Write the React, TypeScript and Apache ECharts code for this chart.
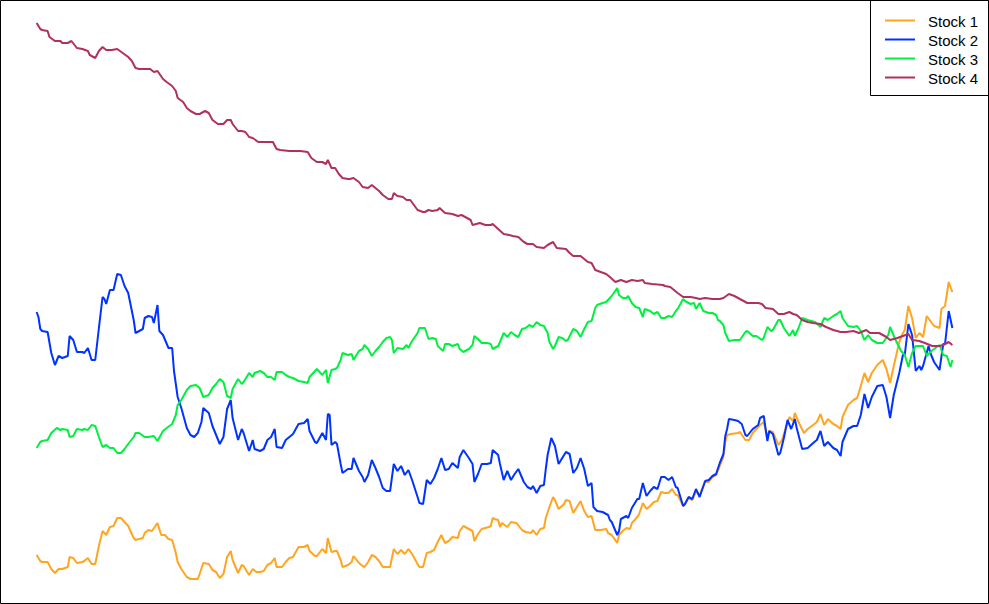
import React, { useEffect, useRef } from "react";
import * as echarts from "echarts";

// Day index (0..500) and index level
const stockNames = ["Stock 1", "Stock 2", "Stock 3", "Stock 4"];
const stockColors = ["#FFA520", "#0033FF", "#00F040", "#B03060"];

const stock1 = [[0,49],[2,43],[3,42],[6,42],[8,35],[10,31],[12,35],[14,35],[17,37],[18,47],[20,46],[22,41],[25,42],[26,43],[28,46],[30,40],[32,40],[34,58],[36,73],[38,69],[40,77],[42,78],[44,86],[46,86],[48,82],[50,78],[53,66],[54,64],[58,66],[59,71],[61,74],[63,73],[66,81],[68,69],[70,69],[72,65],[74,64],[76,51],[77,42],[79,35],[82,27],[84,25],[88,25],[89,30],[91,41],[94,40],[96,34],[98,32],[100,26],[102,30],[104,47],[106,53],[107,44],[110,31],[112,39],[113,38],[116,29],[118,35],[120,32],[122,32],[124,33],[126,39],[128,41],[130,46],[131,37],[134,37],[136,42],[138,46],[140,47],[143,57],[146,57],[148,59],[149,53],[152,48],[153,48],[156,55],[158,51],[159,66],[161,52],[163,53],[164,53],[166,44],[167,37],[170,39],[172,42],[173,48],[176,41],[178,38],[179,37],[181,42],[183,49],[185,47],[187,43],[188,40],[189,37],[191,37],[193,37],[195,55],[197,50],[199,54],[201,50],[203,55],[205,50],[208,40],[209,37],[211,37],[213,51],[215,52],[217,54],[219,62],[221,69],[223,61],[225,63],[227,67],[230,66],[231,73],[233,78],[236,75],[238,73],[239,63],[241,70],[243,75],[247,77],[248,78],[249,86],[250,85],[252,84],[253,77],[254,81],[257,77],[259,82],[262,81],[265,74],[267,72],[270,71],[271,74],[273,69],[275,75],[277,76],[278,86],[280,97],[282,107],[283,104],[285,95],[288,100],[289,104],[291,103],[293,91],[295,97],[297,103],[299,93],[301,87],[303,88],[305,74],[308,74],[311,75],[312,71],[314,69],[317,61],[318,69],[320,73],[322,76],[324,75],[325,81],[328,87],[329,90],[331,101],[333,95],[335,98],[337,102],[339,103],[341,112],[343,111],[345,111],[347,115],[349,109],[350,109],[353,98],[354,100],[356,106],[358,104],[360,113],[362,109],[365,122],[367,122],[369,127],[371,129],[373,138],[375,147],[376,162],[377,169],[379,170],[383,171],[384,172],[387,164],[389,164],[391,171],[393,175],[395,179],[397,182],[399,166],[400,173],[402,172],[405,159],[407,164],[409,176],[411,187],[413,183],[414,191],[416,182],[419,171],[421,175],[424,179],[426,182],[428,190],[430,179],[432,185],[435,180],[437,178],[439,175],[440,187],[443,199],[446,204],[448,206],[450,218],[452,231],[454,222],[456,231],[459,239],[462,244],[464,235],[466,221],[468,238],[471,262],[473,271],[474,274],[476,298],[478,286],[480,266],[482,271],[484,267],[486,288],[488,283],[490,278],[493,276],[494,295],[496,298],[498,322],[500,312]];

const stock2 = [[0,292],[1,287],[2,275],[3,273],[6,272],[8,251],[10,239],[12,248],[14,246],[17,248],[18,268],[20,264],[22,252],[25,252],[26,251],[28,256],[30,244],[32,244],[34,276],[36,307],[37,305],[38,300],[40,314],[42,314],[44,330],[46,329],[48,318],[50,311],[53,284],[54,271],[58,275],[59,286],[61,288],[63,287],[64,281],[66,299],[67,273],[69,269],[72,256],[74,256],[75,233],[77,207],[79,196],[82,176],[84,169],[86,167],[88,171],[90,182],[91,196],[94,191],[96,178],[98,169],[100,160],[102,167],[104,195],[106,204],[107,186],[110,164],[112,175],[113,171],[116,153],[118,164],[119,155],[122,153],[124,155],[126,164],[128,167],[130,175],[131,157],[134,156],[136,164],[138,167],[140,170],[143,180],[146,181],[148,185],[149,173],[152,162],[153,161],[156,171],[158,164],[159,190],[160,189],[161,159],[163,162],[164,160],[166,140],[167,131],[170,135],[172,135],[173,146],[176,133],[178,127],[179,122],[181,129],[183,144],[185,136],[187,127],[189,116],[191,113],[193,113],[195,140],[197,133],[199,138],[201,129],[203,134],[205,124],[208,107],[209,101],[211,100],[213,124],[215,120],[217,126],[219,135],[221,146],[223,134],[225,135],[227,141],[230,136],[231,147],[233,154],[236,146],[238,140],[239,122],[241,130],[243,140],[246,140],[248,141],[249,154],[252,149],[253,140],[255,124],[257,133],[259,124],[261,130],[263,135],[266,122],[268,117],[270,115],[271,118],[273,111],[275,118],[277,119],[278,135],[279,149],[281,166],[283,158],[285,140],[287,146],[289,152],[291,150],[293,131],[295,136],[297,146],[299,135],[301,118],[303,121],[304,97],[306,93],[309,92],[312,89],[313,84],[314,82],[317,69],[318,73],[319,85],[322,88],[323,86],[325,96],[328,105],[329,105],[331,121],[333,108],[335,113],[337,117],[339,115],[341,127],[343,127],[345,124],[347,127],[349,117],[350,116],[353,98],[354,100],[356,107],[358,105],[360,115],[362,107],[365,123],[367,124],[369,128],[371,130],[373,141],[375,150],[376,168],[377,175],[378,185],[381,184],[383,183],[385,180],[387,169],[388,168],[391,175],[394,179],[395,186],[397,188],[399,163],[400,173],[402,170],[405,149],[406,151],[408,166],[410,184],[412,175],[414,185],[415,176],[418,155],[421,156],[424,161],[426,164],[428,173],[430,158],[432,162],[435,156],[437,154],[439,148],[440,162],[443,175],[446,178],[448,178],[450,189],[452,210],[454,196],[456,207],[459,218],[462,219],[464,207],[466,186],[468,209],[471,231],[473,249],[474,249],[476,280],[478,269],[480,233],[482,238],[483,234],[484,238],[487,258],[488,251],[490,242],[493,234],[495,260],[496,260],[498,293],[500,276]];

const stock3 = [[0,156],[2,162],[3,163],[6,164],[8,171],[11,176],[13,174],[14,175],[17,174],[18,167],[20,168],[22,175],[25,174],[26,175],[28,174],[30,179],[32,178],[34,167],[36,157],[37,158],[38,159],[40,156],[42,156],[44,151],[46,151],[48,155],[50,160],[53,167],[54,171],[56,171],[59,167],[61,167],[64,168],[66,163],[69,173],[71,176],[74,180],[76,189],[77,199],[79,204],[82,214],[84,218],[87,219],[89,216],[91,207],[94,209],[96,216],[98,220],[100,225],[102,222],[104,208],[106,206],[107,215],[110,225],[112,220],[113,222],[116,231],[118,227],[119,231],[122,233],[124,231],[126,227],[128,227],[130,224],[131,232],[134,232],[136,229],[138,227],[140,226],[143,223],[146,222],[148,221],[149,227],[152,233],[153,235],[156,229],[158,234],[159,221],[161,234],[163,235],[164,236],[166,244],[167,251],[170,249],[172,250],[173,244],[176,253],[178,255],[179,259],[181,255],[183,248],[185,253],[187,257],[189,262],[191,266],[193,267],[194,264],[195,251],[197,256],[200,255],[202,259],[203,256],[205,263],[208,271],[209,276],[212,276],[214,265],[216,266],[218,265],[219,258],[222,253],[223,260],[225,260],[227,258],[230,260],[231,255],[233,252],[236,255],[238,259],[239,268],[241,265],[243,261],[246,261],[248,260],[249,255],[252,258],[253,262],[255,271],[257,267],[259,272],[261,269],[263,267],[265,275],[267,276],[269,279],[271,277],[273,282],[275,279],[277,278],[279,271],[280,262],[282,255],[283,258],[285,267],[287,266],[289,263],[290,264],[293,275],[295,273],[297,267],[299,275],[301,282],[303,283],[305,296],[306,299],[309,301],[311,302],[313,306],[314,308],[317,316],[318,309],[320,306],[322,306],[323,308],[325,301],[327,297],[329,296],[331,287],[332,295],[335,293],[337,290],[339,292],[341,286],[343,286],[345,288],[347,287],[349,293],[350,295],[353,305],[354,303],[357,300],[359,301],[360,295],[362,301],[364,293],[367,291],[369,291],[371,289],[372,284],[373,283],[375,279],[376,271],[378,263],[381,264],[384,264],[387,272],[388,273],[391,268],[393,268],[396,264],[397,266],[399,277],[401,273],[402,274],[405,284],[406,284],[408,276],[411,268],[413,274],[414,268],[416,276],[418,286],[421,284],[425,282],[428,277],[430,286],[432,284],[435,288],[437,290],[439,293],[440,286],[443,278],[446,277],[448,278],[450,273],[452,264],[454,269],[456,264],[459,261],[462,261],[465,269],[466,277],[469,264],[472,253],[474,249],[476,237],[478,251],[480,258],[482,258],[484,258],[486,248],[488,252],[490,255],[493,259],[495,249],[497,248],[499,237],[500,244]];

const stock4 = [[0,581],[2,575],[3,574],[6,573],[7,567],[10,563],[13,563],[14,561],[17,561],[19,563],[22,556],[25,555],[28,553],[29,549],[32,546],[34,553],[36,557],[38,554],[41,554],[44,555],[47,551],[50,547],[52,543],[54,536],[56,535],[62,535],[64,532],[66,533],[69,525],[71,522],[74,518],[76,513],[77,506],[80,502],[82,496],[84,493],[87,490],[89,490],[92,493],[94,491],[96,484],[99,480],[102,480],[104,484],[106,484],[107,480],[110,473],[112,473],[114,472],[116,467],[118,466],[121,462],[125,462],[129,462],[131,455],[133,454],[138,453],[144,453],[148,452],[150,446],[153,442],[156,442],[158,440],[159,444],[161,436],[163,436],[165,430],[167,426],[170,425],[171,425],[173,426],[176,422],[178,417],[181,416],[183,419],[185,416],[187,413],[189,409],[192,405],[194,405],[195,411],[197,408],[200,407],[202,404],[204,404],[206,399],[208,394],[211,392],[212,392],[214,394],[216,393],[219,394],[220,396],[223,391],[227,390],[230,388],[232,389],[234,387],[237,384],[238,379],[242,381],[245,379],[248,379],[249,380],[252,375],[255,370],[258,369],[260,368],[263,367],[266,362],[268,360],[271,360],[273,357],[277,356],[279,359],[282,362],[284,356],[289,355],[291,351],[293,348],[297,348],[299,345],[301,342],[303,341],[305,334],[308,332],[311,330],[313,327],[316,322],[319,324],[322,322],[325,324],[328,323],[331,324],[332,321],[336,320],[342,319],[343,318],[346,317],[348,314],[350,311],[353,307],[357,307],[360,306],[362,305],[365,306],[369,305],[373,305],[375,306],[378,310],[381,308],[383,306],[386,303],[388,301],[394,301],[396,300],[398,296],[402,295],[405,290],[408,290],[411,292],[413,290],[415,289],[418,284],[421,282],[424,281],[428,280],[431,277],[435,274],[439,272],[442,272],[446,273],[449,271],[453,274],[455,271],[460,271],[464,267],[466,264],[470,266],[473,268],[476,270],[478,264],[482,263],[485,261],[489,258],[493,258],[495,259],[498,262],[500,259]];

const stockData = [stock1, stock2, stock3, stock4];

export default function App() {
  const ref = useRef<HTMLDivElement>(null);

  useEffect(() => {
    if (!ref.current) return;
    const chart = echarts.init(ref.current, null, { renderer: "svg" });

    const legendItems: any[] = [
      {
        type: "rect",
        shape: { x: 870.5, y: 0.5, width: 118, height: 95 },
        style: { fill: "#fff", stroke: "#000", lineWidth: 1 },
      },
    ];
    stockNames.forEach((name, i) => {
      const y = 20.5 + i * 19;
      legendItems.push({
        type: "line",
        shape: { x1: 885, y1: y, x2: 915, y2: y },
        style: { stroke: stockColors[i], lineWidth: 2 },
      });
      legendItems.push({
        type: "text",
        x: 928,
        y: y + 0.5,
        style: {
          text: name,
          fill: "#000",
          fontSize: 15,
          fontFamily: "'Liberation Sans', Arial, sans-serif",
          verticalAlign: "middle",
          align: "left",
        },
      });
    });

    chart.setOption({
      animation: false,
      backgroundColor: "#fff",
      grid: { left: 0, right: 0, top: 0, bottom: 0, containLabel: false },
      xAxis: { type: "value", min: -20, max: 520, show: false },
      yAxis: { type: "value", min: 0, max: 604, show: false },
      series: stockData.map((d, i) => ({
        name: stockNames[i],
        type: "line",
        data: d,
        symbol: "none",
        showSymbol: false,
        lineStyle: { color: stockColors[i], width: 2 },
        itemStyle: { color: stockColors[i] },
        z: 2 + i,
      })),
      graphic: [
        {
          type: "rect",
          shape: { x: 0.5, y: 0.5, width: 988, height: 603 },
          style: { fill: "none", stroke: "#000", lineWidth: 1 },
          z: 100,
          silent: true,
        },
        { type: "group", z: 101, silent: true, children: legendItems },
      ],
    });

    return () => chart.dispose();
  }, []);

  return (
    <div
      ref={ref}
      style={{ position: "absolute", left: 0, top: 0, width: 989, height: 604, background: "#fff" }}
    />
  );
}
